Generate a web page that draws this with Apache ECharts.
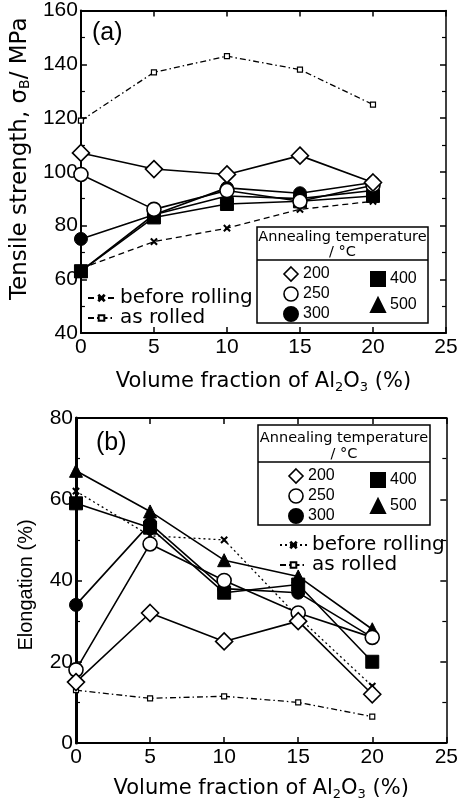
<!DOCTYPE html>
<html><head><meta charset="utf-8">
<script src="https://cdn.jsdelivr.net/npm/echarts@6/dist/echarts.min.js"></script>
<style>html,body{margin:0;padding:0;background:#fff}#c{width:461px;height:811px}</style>
</head><body><div id="c"></div><script>
// ---- data ----
const xVals = [0, 5, 10, 15, 20];
// (a) tensile strength, MPa
const tsBefore = [64, 74, 79, 86, 89];
const tsRolled = [119, 137, 143, 138, 125];
const ts200 = [107, 101, 99, 106, 96];
const ts250 = [99, 86, 93, 89, 95];
const ts300 = [75, 84, 94, 92, 96];
const ts400 = [63, 83, 88, 89, 91];
const ts500 = [63, 84, 91, 90, 93];
// (b) elongation, %
const elBefore = [62, 51, 50, 31, 14];
const elRolled = [13, 11, 11.5, 10, 6.5];
const el200 = [15, 32, 25, 30, 12];
const el250 = [18, 49, 40, 32, 26];
const el300 = [34, 54, 38, 37, 26];
const el400 = [59, 53, 37, 39, 20];
const el500 = [67, 57, 45, 41, 28];

const FONT = "'Liberation Sans', Arial, sans-serif";
const WIDE = "'DejaVu Sans', sans-serif";
const crossPath = 'path://M0,1L1,0L5,4L9,0L10,1L6,5L10,9L9,10L5,6L1,10L0,9L4,5Z';
const pts = arr => xVals.map((x, i) => [x, arr[i]]);

function baseX(gi, pos, show) {
  return {
    gridIndex: gi, type: 'value', min: 0, max: 25, interval: 5, position: pos,
    axisLine: { show: true, onZero: false, lineStyle: { color: '#000', width: 2 } },
    axisTick: { show: true, inside: true, length: 6, lineStyle: { color: '#000', width: 1.5 } },
    axisLabel: { show: show, color: '#000', fontSize: 21, fontFamily: FONT, margin: 4 },
    splitLine: { show: false }
  };
}
function baseY(gi, pos, show, min, max, lw) {
  return {
    gridIndex: gi, type: 'value', min: min, max: max, interval: 20, position: pos,
    axisLine: { show: true, onZero: false, lineStyle: { color: '#000', width: lw } },
    axisTick: { show: true, inside: true, length: 6, lineStyle: { color: '#000', width: 1.5 } },
    minorTick: { show: true, splitNumber: 2, length: 4, lineStyle: { color: '#000', width: 1.2 } },
    axisLabel: { show: show, color: '#000', fontSize: 21, fontFamily: FONT, margin: 3 },
    splitLine: { show: false }
  };
}
function xTitle(gap) {
  return {
    name: 'Volume fraction of Al{s|2}O{s|3} (%)', nameLocation: 'middle', nameGap: gap,
    nameTextStyle: { color: '#000', fontSize: 21, fontFamily: WIDE, lineHeight: 24,
      rich: { s: { fontSize: 13, fontFamily: WIDE, color: '#000', verticalAlign: 'bottom', lineHeight: 13 } } }
  };
}

const xAxes = [
  Object.assign(baseX(0, 'bottom', true), xTitle(37)),
  baseX(0, 'top', false),
  Object.assign(baseX(1, 'bottom', true), xTitle(34)),
  baseX(1, 'top', false)
];
const yAxes = [
  Object.assign(baseY(0, 'left', true, 40, 160, 2), {
    name: 'Tensile strength, σ{s|B}/ MPa', nameLocation: 'middle', nameGap: 38,
    nameTextStyle: { color: '#000', fontSize: 23, fontFamily: WIDE, lineHeight: 24, padding: [0, 0, 0, 26],
      rich: { s: { fontSize: 14, fontFamily: WIDE, color: '#000', verticalAlign: 'bottom', lineHeight: 13 } } }
  }),
  baseY(0, 'right', false, 40, 160, 1.5),
  Object.assign(baseY(1, 'left', true, 0, 80, 3), {
    name: 'Elongation (%)', nameLocation: 'middle', nameGap: 40,
    nameTextStyle: { color: '#000', fontSize: 20, fontFamily: FONT, padding: [0, 9, 0, 0] }
  }),
  baseY(1, 'right', false, 0, 80, 1.5)
];

function sym(name, data, gi, symbol, size, hollow) {
  return {
    name: name, type: 'line', xAxisIndex: gi * 2, yAxisIndex: gi * 2, data: pts(data),
    symbol: symbol, symbolSize: size, showSymbol: true,
    lineStyle: { color: '#000', width: 1.6 },
    itemStyle: hollow ? { color: '#fff', borderColor: '#000', borderWidth: 1.6 } : { color: '#000', borderColor: '#000', borderWidth: 1 },
    z: 3, animation: false
  };
}
function ref(name, data, gi, type, symbol, size) {
  return {
    name: name, type: 'line', xAxisIndex: gi * 2, yAxisIndex: gi * 2, data: pts(data),
    symbol: symbol, symbolSize: size,
    lineStyle: { color: '#000', width: 1.3, type: type },
    itemStyle: { color: symbol === 'rect' ? '#fff' : '#000', borderColor: '#000', borderWidth: 1.2 },
    z: 2, animation: false
  };
}
const dashDot = [6, 3, 1.5, 3];
const series = [
  ref('before rolling', tsBefore, 0, [6, 4], crossPath, 6),
  ref('as rolled', tsRolled, 0, dashDot, 'rect', 5),
  sym('500', ts500, 0, 'triangle', 13, false),
  sym('400', ts400, 0, 'rect', 13, false),
  sym('300', ts300, 0, 'circle', 13, false),
  sym('250', ts250, 0, 'circle', 14, true),
  sym('200', ts200, 0, 'diamond', 17, true),
  ref('before rolling', elBefore, 1, [2, 3], crossPath, 6),
  ref('as rolled', elRolled, 1, dashDot, 'rect', 5),
  sym('500', el500, 1, 'triangle', 13, false),
  sym('400', el400, 1, 'rect', 13, false),
  sym('300', el300, 1, 'circle', 13, false),
  sym('250', el250, 1, 'circle', 14, true),
  sym('200', el200, 1, 'diamond', 17, true)
];

const legText = { color: '#000', fontSize: 16, fontFamily: FONT };
const hollowStyle = { color: '#fff', borderColor: '#000', borderWidth: 1.6 };
function symLegends(l1, t1, l2, t2) {
  return [
    { orient: 'vertical', left: l1, top: t1, itemWidth: 14, itemHeight: 14, itemGap: 4, selectedMode: false,
      textStyle: legText, z: 6,
      data: [{ name: '200', icon: 'diamond', itemStyle: hollowStyle },
             { name: '250', icon: 'circle', itemStyle: hollowStyle },
             { name: '300', icon: 'circle', itemStyle: { color: '#000' } }] },
    { orient: 'vertical', left: l2, top: t2, itemWidth: 14, itemHeight: 14, itemGap: 10, selectedMode: false,
      textStyle: legText, z: 6,
      data: [{ name: '400', icon: 'rect', itemStyle: { color: '#000' } },
             { name: '500', icon: 'triangle', itemStyle: { color: '#000' } }] }
  ];
}
function lineLegend(l, t, beforeType) {
  return { orient: 'vertical', left: l, top: t, itemWidth: 27, itemHeight: 7, itemGap: 0, selectedMode: false,
    textStyle: { color: '#000', fontSize: 20, fontFamily: WIDE }, z: 6,
    data: [{ name: 'before rolling', lineStyle: { type: beforeType } }, { name: 'as rolled', lineStyle: { type: dashDot } }] };
}
const legends = [].concat(
  symLegends(278, 261, 365, 266),
  [lineLegend(82, 283, [6, 4])],
  symLegends(283, 463, 365, 467),
  [lineLegend(274, 530, [2, 3])]
);

function box(x, y, w, h, dy, ty1, ty2) {
  const cx = x + w / 2;
  const ts = { fill: '#000', fontSize: 14.5, fontFamily: WIDE, textAlign: 'center', textVerticalAlign: 'middle' };
  return [
    { type: 'rect', shape: { x: x, y: y, width: w, height: h }, style: { fill: '#fff', stroke: '#000', lineWidth: 1.5 }, z: 3.5 },
    { type: 'line', shape: { x1: x, y1: dy, x2: x + w, y2: dy }, style: { stroke: '#000', lineWidth: 1.5 }, z: 3.6 },
    { type: 'text', x: cx, y: ty1, style: Object.assign({ text: 'Annealing temperature' }, ts), z: 3.6 },
    { type: 'text', x: cx, y: ty2, style: Object.assign({ text: '/ °C' }, ts), z: 3.6 }
  ];
}
const graphics = [].concat(
  box(257, 227, 171, 96, 260, 237, 252),
  box(258, 425, 172, 100, 462, 438, 454),
  [{ type: 'text', x: 92, y: 33, style: { text: '(a)', fill: '#000', fontSize: 25, fontFamily: FONT, textVerticalAlign: 'middle' }, z: 6 },
   { type: 'text', x: 96, y: 443, style: { text: '(b)', fill: '#000', fontSize: 25, fontFamily: FONT, textVerticalAlign: 'middle' }, z: 6 }]
);

const chart = echarts.init(document.getElementById('c'), null, { renderer: 'canvas' });
chart.setOption({
  backgroundColor: '#fff',
  animation: false,
  grid: [
    { left: 73, top: 10, width: 373, height: 323 },
    { left: 76, top: 418, width: 371, height: 325 }
  ],
  xAxis: xAxes,
  yAxis: yAxes,
  legend: legends,
  graphic: { elements: graphics },
  series: series
});
</script></body></html>
